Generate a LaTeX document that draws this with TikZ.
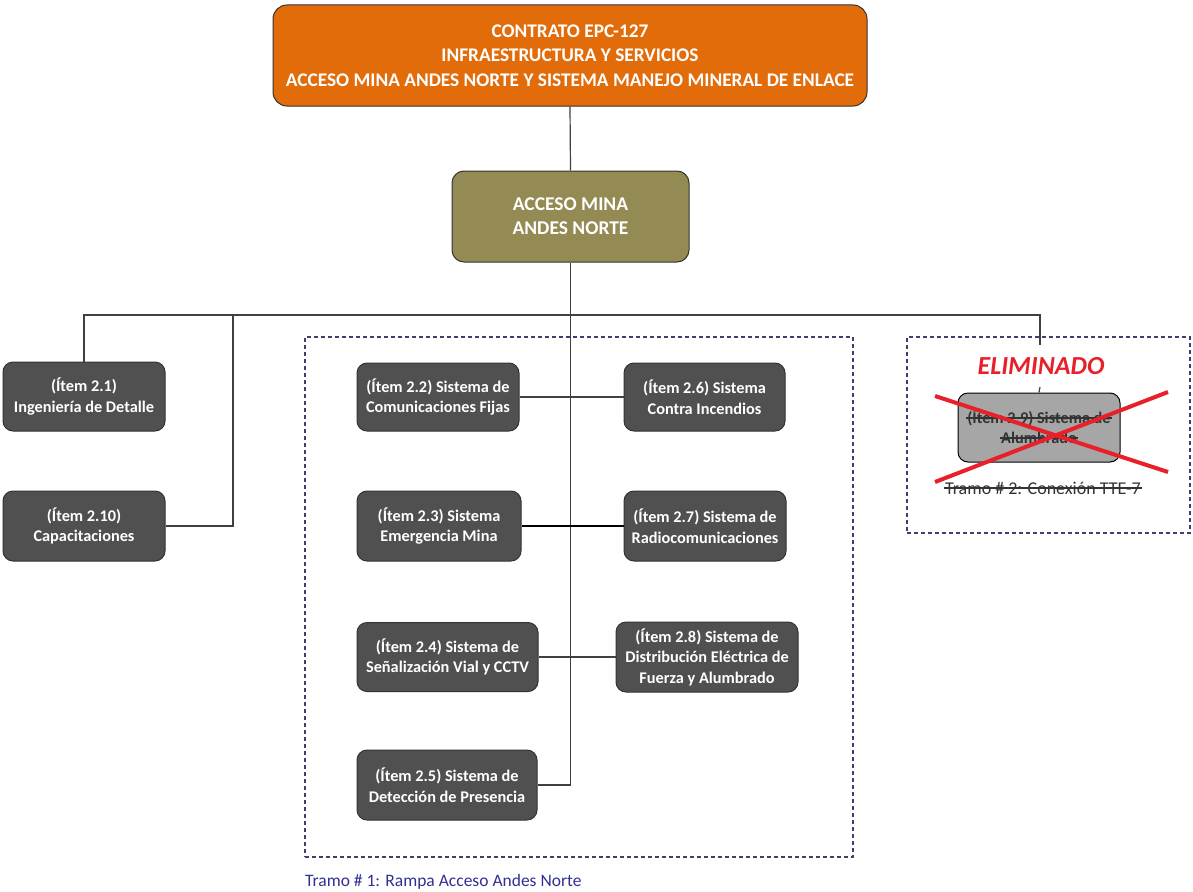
\documentclass[tikz,border=0pt]{standalone}
\usepackage{fontspec}
\setmainfont{Carlito}
\definecolor{orangebox}{HTML}{E36C0A}
\definecolor{olivebox}{HTML}{948A54}
\definecolor{darkbox}{HTML}{505050}
\definecolor{darkedge}{HTML}{333333}
\definecolor{grayfill}{HTML}{A6A6A6}
\definecolor{dashblue}{HTML}{40406E}
\definecolor{crossred}{HTML}{E8202A}
\definecolor{tramoblue}{HTML}{2E3192}
\definecolor{linegray}{HTML}{404040}
\begin{document}
\begin{tikzpicture}[x=1pt,y=-1pt,
  box/.style={draw=darkedge,line width=1pt,rounded corners=10pt,fill=darkbox,text=white,
    font=\bfseries\fontsize{16.3}{20.5}\selectfont,align=center,inner sep=2pt},
  conn/.style={draw=linegray,line width=1.2pt},
  strike/.style={draw=darkedge,line width=1.2pt},
  dashframe/.style={draw=dashblue,line width=1.3pt,dash pattern=on 4pt off 3pt}]
\useasboundingbox (0,0) rectangle (1193,891);
% top boxes
\node[box,fill=orangebox,draw=darkedge,rounded corners=14pt,minimum width=594pt,minimum height=101pt,
  font=\bfseries\fontsize{19.3}{24.5}\selectfont,text=white] (top) at (570,55.5)
  {CONTRATO EPC-127\\INFRAESTRUCTURA Y SERVICIOS\\ACCESO MINA ANDES NORTE Y SISTEMA MANEJO MINERAL DE ENLACE};
\node[box,fill=olivebox,rounded corners=12pt,minimum width=237pt,minimum height=91pt,
  font=\bfseries\fontsize{19.5}{24}\selectfont] (olive) at (570.5,216.5) {ACCESO MINA\\ANDES NORTE};
% dashed frames
\node[dashframe,minimum width=548pt,minimum height=520pt,inner sep=0pt] (frame1) at (579,597) {};
\node[dashframe,minimum width=283pt,minimum height=196pt,inner sep=0pt] (frame2) at (1048.5,435) {};
% left boxes
\node[box,minimum width=162pt,minimum height=69pt] (b21) at (84,396.5) {(Ítem 2.1)\\Ingeniería de Detalle};
\node[box,minimum width=162pt,minimum height=70pt] (b210) at (84,526) {(Ítem 2.10)\\Capacitaciones};
% inner boxes
\node[box,minimum width=162pt,minimum height=68pt] (b22) at (438,397) {(Ítem 2.2) Sistema de\\Comunicaciones Fijas};
\node[box,minimum width=161pt,minimum height=68pt] (b26) at (704.5,397) {(Ítem 2.6) Sistema\\Contra Incendios};
\node[box,minimum width=164pt,minimum height=70pt] (b23) at (439,526) {(Ítem 2.3) Sistema\\Emergencia Mina};
\node[box,minimum width=162pt,minimum height=70pt] (b27) at (705,526) {(Ítem 2.7) Sistema de\\Radiocomunicaciones};
\node[box,minimum width=181pt,minimum height=69pt] (b24) at (447.5,657) {(Ítem 2.4) Sistema de\\Señalización Vial y CCTV};
\node[box,minimum width=182pt,minimum height=70pt] (b28) at (707,657) {(Ítem 2.8) Sistema de\\Distribución Eléctrica de\\Fuerza y Alumbrado};
\node[box,minimum width=180pt,minimum height=70pt] (b25) at (447,785) {(Ítem 2.5) Sistema de\\Detección de Presencia};
% connectors
\coordinate (bar) at (570,315);
\coordinate (c233) at (233,315);
\coordinate (eR) at (1040,345);
\coordinate (tickTop) at (1040,387);
\draw[conn] (top.south) -- (olive.north);
\draw[conn] (olive.south) |- (b25.east);
\draw[conn] (b21.north) -- (b21.north |- bar) -- (bar -| eR) -- (eR);
\draw[conn] (b210.east) -| (c233);
\draw[conn] (b22.east) -- (b26.west);
\draw[draw=black,line width=2pt] (b23.east) -- (b27.west);
\draw[conn] (b24.east) -- (b24.east -| b28.west);
% eliminated part
\node[font=\bfseries\itshape\fontsize{26}{30}\selectfont,text=crossred] (elim) at (1041,366) {ELIMINADO};
\node[draw=black,line width=1pt,rounded corners=10pt,fill=grayfill,minimum width=162pt,minimum height=69pt] (b29) at (1039,427.5) {};
\node[font=\bfseries\fontsize{16.3}{19}\selectfont,text=darkedge,inner sep=1pt] (b29a) at (1039,418) {(Ítem 2.9) Sistema de};
\node[font=\bfseries\fontsize{16.3}{19}\selectfont,text=darkedge,inner sep=1pt] (b29b) at (1039,438) {Alumbrado};
\draw[strike] (b29a.west) -- (b29a.east);
\draw[strike] (b29b.west) -- (b29b.east);
\draw[conn] (tickTop) -- (b29.north);
\node[font=\fontsize{18}{21}\selectfont,text=darkedge,inner sep=1pt] (tramo2) at (1043,488) {Tramo \# 2: Conexión TTE-7};
\draw[strike] (tramo2.west) -- (tramo2.east);
\coordinate (x1) at (935,396);
\coordinate (x2) at (1168,472);
\coordinate (x3) at (935,482);
\coordinate (x4) at (1168,392);
\draw[crossred,line width=4pt] (x1) -- (x2);
\draw[crossred,line width=4pt] (x3) -- (x4);
% caption
\node[anchor=west,font=\fontsize{17.5}{20}\selectfont,text=tramoblue,inner sep=1pt] (tramo1) at (304,882) {Tramo \# 1: Rampa Acceso Andes Norte};
\end{tikzpicture}
\end{document}
